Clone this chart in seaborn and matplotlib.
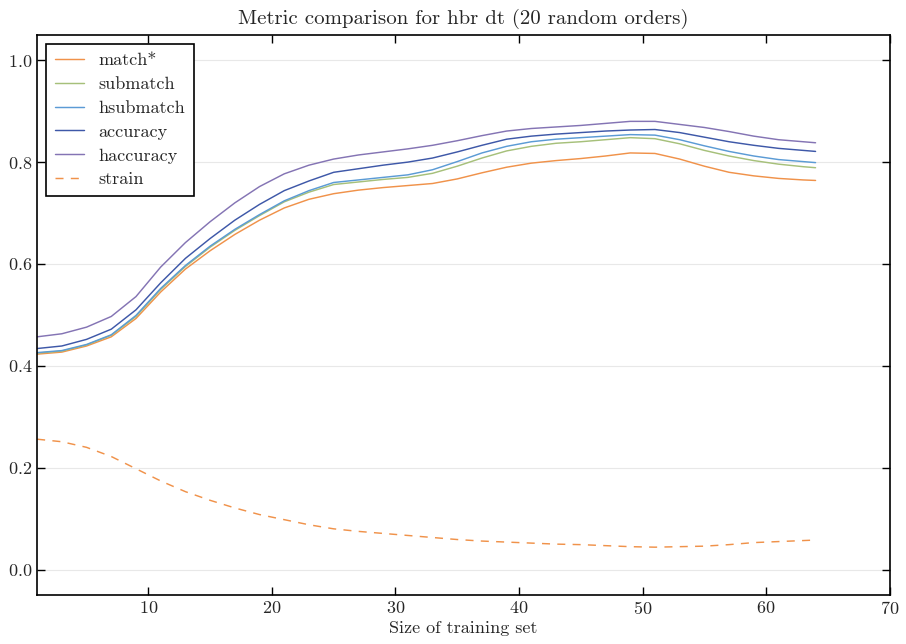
import numpy as np
import pandas as pd
import matplotlib
matplotlib.use("Agg")
import matplotlib.pyplot as plt
import seaborn as sns

# --- data (mean over 20 random orders) ---
train_size = [1, 3, 5, 7, 9, 11, 13, 15, 17, 19, 21, 23, 25, 27, 29, 31, 33,
              35, 37, 39, 41, 43, 45, 47, 49, 51, 53, 55, 57, 59, 61, 63, 64]

match_star = [0.423, 0.427, 0.439, 0.457, 0.493, 0.545, 0.590, 0.626, 0.658, 0.686, 0.710,
              0.727, 0.738, 0.745, 0.750, 0.754, 0.758, 0.767, 0.779, 0.790, 0.798, 0.803,
              0.807, 0.812, 0.818, 0.817, 0.806, 0.792, 0.780, 0.773, 0.768, 0.765, 0.764]
submatch = [0.425, 0.429, 0.441, 0.460, 0.497, 0.550, 0.595, 0.633, 0.666, 0.695, 0.722,
            0.741, 0.756, 0.761, 0.766, 0.770, 0.778, 0.792, 0.808, 0.822, 0.831, 0.837,
            0.840, 0.844, 0.848, 0.846, 0.836, 0.823, 0.812, 0.803, 0.796, 0.791, 0.789]
hsubmatch = [0.426, 0.430, 0.442, 0.461, 0.499, 0.552, 0.597, 0.635, 0.668, 0.697, 0.724,
             0.744, 0.760, 0.765, 0.770, 0.775, 0.785, 0.801, 0.818, 0.831, 0.840, 0.845,
             0.848, 0.851, 0.854, 0.853, 0.844, 0.832, 0.821, 0.812, 0.805, 0.801, 0.799]
accuracy = [0.434, 0.439, 0.452, 0.472, 0.510, 0.563, 0.611, 0.650, 0.686, 0.717, 0.744,
            0.763, 0.780, 0.787, 0.794, 0.800, 0.808, 0.820, 0.833, 0.845, 0.851, 0.855,
            0.858, 0.861, 0.863, 0.864, 0.858, 0.849, 0.840, 0.833, 0.827, 0.823, 0.821]
haccuracy = [0.457, 0.463, 0.476, 0.497, 0.536, 0.594, 0.642, 0.683, 0.720, 0.752, 0.777,
             0.794, 0.806, 0.814, 0.820, 0.826, 0.833, 0.842, 0.852, 0.861, 0.866, 0.869,
             0.872, 0.876, 0.880, 0.880, 0.874, 0.868, 0.860, 0.851, 0.844, 0.840, 0.838]
strain = [0.256, 0.251, 0.240, 0.222, 0.198, 0.174, 0.153, 0.136, 0.121, 0.108, 0.098,
          0.088, 0.080, 0.075, 0.071, 0.067, 0.063, 0.059, 0.056, 0.054, 0.052, 0.050,
          0.049, 0.047, 0.045, 0.044, 0.045, 0.046, 0.049, 0.053, 0.055, 0.057, 0.058]

series = {
    "match*": match_star,
    "submatch": submatch,
    "hsubmatch": hsubmatch,
    "accuracy": accuracy,
    "haccuracy": haccuracy,
    "strain": strain,
}
colors = {
    "match*": "#f0924a",
    "submatch": "#a6c07a",
    "hsubmatch": "#5b9bd5",
    "accuracy": "#3e58a8",
    "haccuracy": "#8474b4",
    "strain": "#f0924a",
}

# --- style ---
sns.set_theme(style="white")
plt.rcParams['font.family'] = ['cmr10', 'DejaVu Serif']
plt.rcParams['mathtext.fontset'] = 'cm'
plt.rcParams['axes.formatter.use_mathtext'] = True
plt.rcParams['axes.unicode_minus'] = False

fig, ax = plt.subplots(figsize=(9.06, 6.44), dpi=100)
fig.subplots_adjust(left=0.041, right=0.982, top=0.946, bottom=0.076)

for name, vals in series.items():
    df = pd.DataFrame({"size": train_size, "value": vals})
    sns.lineplot(data=df, x="size", y="value", ax=ax, color=colors[name],
                 linewidth=1.05, label=name)
    if name == "strain":
        ax.lines[-1].set_dashes((5.5, 5))

ax.set_xlim(1, 70)
ax.set_ylim(-0.05, 1.05)
ax.set_xticks([10, 20, 30, 40, 50, 60, 70])
ax.set_yticks([0.0, 0.2, 0.4, 0.6, 0.8, 1.0])
ax.yaxis.grid(True, color="#e8e8e8", linewidth=0.8)
ax.set_axisbelow(True)
ax.tick_params(direction="in", top=True, right=True, length=6, width=1,
               labelsize=13, color="black", bottom=True, left=True)
for sp in ax.spines.values():
    sp.set_color("black")
    sp.set_linewidth(1.2)

ax.set_xlabel("Size of training set", fontsize=13, labelpad=3)
ax.set_ylabel("")
ax.set_title("Metric comparison for hbr dt (20 random orders)", fontsize=15, pad=8)

leg = ax.legend(loc="upper left", fontsize=13, fancybox=False, frameon=True,
                handlelength=1.6, borderpad=0.5, labelspacing=0.45)
leg.get_frame().set_edgecolor("black")
leg.get_frame().set_linewidth(1.2)
leg.get_frame().set_alpha(1)
# legend handle for strain keeps the dashed look
leg.get_lines()[-1].set_dashes((5.5, 5))

plt.savefig("out.png", dpi=100)
